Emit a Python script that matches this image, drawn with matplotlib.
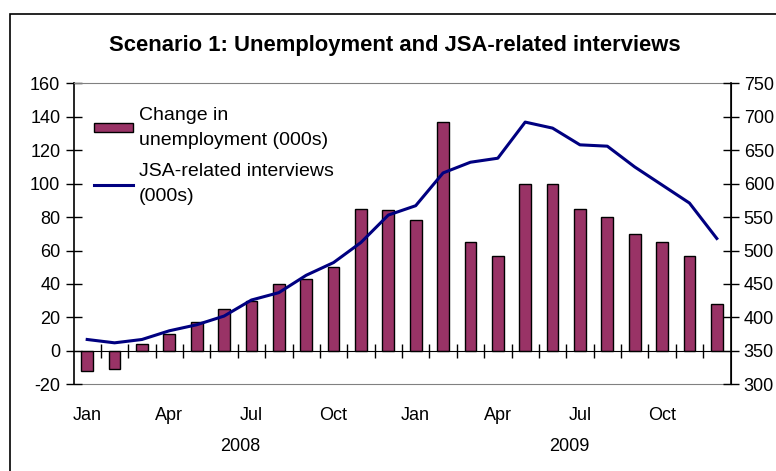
import numpy as np
import matplotlib.pyplot as plt
from matplotlib.patches import Rectangle
from matplotlib.lines import Line2D

plt.rcParams['font.family'] = ['Liberation Sans', 'DejaVu Sans']
plt.rcParams['axes.unicode_minus'] = False

# monthly figures, Jan 2008 - Dec 2009
months = ['Jan', '', '', 'Apr', '', '', 'Jul', '', '', 'Oct', '', '',
          'Jan', '', '', 'Apr', '', '', 'Jul', '', '', 'Oct', '', '']
years = ['2008', '2009']
unemp_change = [-12, -11, 4, 10, 17, 25, 30, 40, 43, 50, 85, 84,
                78, 137, 65, 57, 100, 100, 85, 80, 70, 65, 57, 28]
jsa_interviews = [367, 362, 367, 380, 389, 402, 426, 437, 463, 482, 512, 553,
                  567, 616, 632, 638, 692, 683, 658, 656, 625, 598, 571, 518]

bar_col = '#993366'
line_col = '#000080'
fs = 13
x = np.arange(len(months))

fig = plt.figure(figsize=(7.76, 4.71), dpi=100)
ax = fig.add_axes([73.5/776, 1-384.3/471, 657/776, 301/471])

ax.bar(x, unemp_change, width=0.43, color=bar_col, edgecolor='black', linewidth=1.0, zorder=2)
ax.set_xlim(-0.5, 23.5)
ax.set_ylim(-20, 160)
ax.set_yticks(np.arange(-20, 161, 20))
ax.tick_params(axis='y', direction='inout', length=11, width=1, labelsize=fs, pad=4)

# zero line carries the category ticks
ax.spines['bottom'].set_position(('data', 0))
ax.spines['bottom'].set_color('black')
ax.set_xticks(np.arange(0.5, 23, 1))
ax.set_xticklabels([])
ax.tick_params(axis='x', direction='inout', length=10, width=1)
ax.spines['top'].set_color('#808080')
ax.spines['left'].set_linewidth(1.2)

# month labels on a second axis along the bottom of the plot area
sec = ax.secondary_xaxis(0.0)
sec.set_xticks(x)
sec.set_xticklabels(months)
sec.tick_params(axis='x', length=0, labelsize=fs, pad=16)
sec.spines['bottom'].set_color('#808080')

for i, yr in enumerate(years):
    ax.text(i * 12 + 5.6, -0.205, yr, transform=ax.get_xaxis_transform(),
            ha='center', va='center', fontsize=fs)

ax2 = ax.twinx()
ax2.plot(x, jsa_interviews, color=line_col, linewidth=2.2)
ax2.set_ylim(300, 750)
ax2.set_yticks(np.arange(300, 751, 50))
ax2.tick_params(axis='y', direction='inout', length=11, width=1, labelsize=fs, pad=4)
ax2.spines['right'].set_linewidth(1.2)
ax2.spines['top'].set_visible(False)
ax2.spines['bottom'].set_visible(False)
ax2.spines['left'].set_visible(False)

handles = [Rectangle((0, 0), 1, 1, facecolor=bar_col, edgecolor='black', linewidth=1.0),
           Line2D([], [], color=line_col, linewidth=2.2)]
labels = ['Change in\nunemployment (000s)', 'JSA-related interviews\n(000s)']
leg = ax2.legend(handles, labels, loc='upper left', bbox_to_anchor=(0.005, 0.98), frameon=False,
                 fontsize=14, handlelength=2.0, handleheight=0.35, handletextpad=0.3,
                 labelspacing=0.75, borderaxespad=0.5)
for t in leg.get_texts():
    t.set_linespacing(1.6)

fig.text(394.5/776, 1-45/471, 'Scenario 1: Unemployment and JSA-related interviews',
         ha='center', va='center', fontsize=15.8, fontweight='bold')

fig.add_artist(Rectangle((9.5/776, -0.1), 1.2, 1.1 - 14/471, transform=fig.transFigure,
                         fill=False, edgecolor='black', linewidth=1.2))

fig.savefig('out.png', dpi=100)
